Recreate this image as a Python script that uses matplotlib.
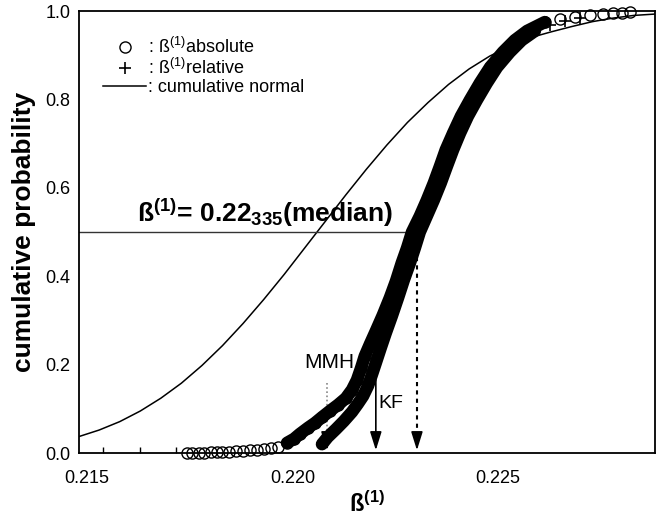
import matplotlib
matplotlib.use('Agg')
import matplotlib.pyplot as plt
from matplotlib.lines import Line2D

# values
# beta(1) absolute (circles): baseline tail, dense band, top tail
abs_tail_x = [0.21743, 0.21757, 0.21772, 0.21786, 0.21801, 0.21816, 0.21830, 0.21845,
              0.21862, 0.21879, 0.21896, 0.21913, 0.21930, 0.21947, 0.21964]
abs_tail_y = [0.000, 0.000, 0.001, 0.001, 0.002, 0.002, 0.003, 0.003,
              0.004, 0.005, 0.006, 0.007, 0.009, 0.011, 0.014]
abs_x = [0.21987, 0.22004, 0.22018, 0.22038, 0.22055, 0.22072, 0.22091, 0.22111, 0.22130,
         0.22145, 0.22157, 0.22167, 0.22176, 0.22189, 0.22203, 0.22220, 0.22237, 0.22252,
         0.22266, 0.22279, 0.22291, 0.22310, 0.22327, 0.22344, 0.22359, 0.22373, 0.22391,
         0.22410, 0.22432, 0.22456, 0.22481, 0.22512, 0.22541, 0.22571, 0.22614]
abs_y = [0.023, 0.032, 0.043, 0.057, 0.068, 0.081, 0.095, 0.109, 0.124,
         0.143, 0.165, 0.192, 0.219, 0.247, 0.276, 0.312, 0.351, 0.389,
         0.430, 0.464, 0.500, 0.536, 0.572, 0.611, 0.649, 0.686, 0.724,
         0.762, 0.799, 0.837, 0.873, 0.907, 0.934, 0.955, 0.975]
abs_top_x = [0.22651, 0.22687, 0.22724, 0.22755, 0.22780, 0.22802, 0.22821]
abs_top_y = [0.982, 0.987, 0.991, 0.993, 0.995, 0.995, 0.998]

# beta(1) relative (plus signs)
rel_x = [0.22072, 0.22086, 0.22106, 0.22125, 0.22145, 0.22159, 0.22172, 0.22184, 0.22193,
         0.22203, 0.22215, 0.22227, 0.22242, 0.22257, 0.22271, 0.22286, 0.22298, 0.22310,
         0.22327, 0.22344, 0.22361, 0.22376, 0.22391, 0.22408, 0.22427, 0.22449, 0.22473,
         0.22498, 0.22529, 0.22558, 0.22590]
rel_y = [0.020, 0.036, 0.054, 0.072, 0.093, 0.111, 0.129, 0.152, 0.176,
         0.204, 0.238, 0.271, 0.310, 0.351, 0.391, 0.430, 0.464, 0.500,
         0.536, 0.572, 0.611, 0.649, 0.686, 0.724, 0.762, 0.799, 0.837,
         0.873, 0.907, 0.934, 0.955]
rel_top_x = [0.22627, 0.22663, 0.22700]
rel_top_y = [0.968, 0.978, 0.985]

# cumulative normal curve
norm_x = [0.2148, 0.2153, 0.2158, 0.2163, 0.2168, 0.2173, 0.2178, 0.2183, 0.2188, 0.2193,
          0.2198, 0.2203, 0.2208, 0.2213, 0.2218, 0.2223, 0.2228, 0.2233, 0.2238, 0.2243,
          0.2248, 0.2253, 0.2258, 0.2263, 0.2268, 0.2273, 0.2278, 0.2283, 0.2288]
norm_y = [0.037, 0.052, 0.071, 0.095, 0.124, 0.158, 0.198, 0.243, 0.293, 0.347,
          0.404, 0.464, 0.524, 0.584, 0.642, 0.697, 0.748, 0.793, 0.834, 0.869,
          0.898, 0.921, 0.940, 0.953, 0.965, 0.976, 0.984, 0.990, 0.993]

median_x = 0.22303
kf_x, kf_y = 0.22203, 0.172
mmh_x, mmh_y = 0.22084, 0.158

plt.rcParams['font.family'] = ['Liberation Sans', 'DejaVu Sans']
plt.rcParams['mathtext.fontset'] = 'custom'
plt.rcParams['mathtext.rm'] = 'Liberation Sans'
plt.rcParams['mathtext.bf'] = 'Liberation Sans:bold'
plt.rcParams['mathtext.it'] = 'Liberation Sans:italic'

fig = plt.figure(figsize=(6.6, 5.25), dpi=100)
ax = fig.add_axes([0.1197, 0.1371, 0.8727, 0.8419])

# cumulative normal
ax.plot(norm_x, norm_y, color='black', lw=1.1, zorder=2)

# median line + arrows
arrow = dict(arrowstyle='-|>,head_length=0.8,head_width=0.25', color='black',
             lw=1.2, mutation_scale=14)
ax.plot([0.2148, median_x], [0.5, 0.5], color='#333333', lw=1.0, zorder=2)
ax.plot([median_x, median_x], [0.5, 0.03], color='black', lw=1.5, ls=(0, (2, 2)), zorder=2)
ax.annotate('', xy=(median_x, 0), xytext=(median_x, 0.04), arrowprops=arrow, zorder=2)
ax.plot([mmh_x, mmh_x], [mmh_y, 0.03], color='#888888', lw=1.2, ls=(0, (1, 1.5)), zorder=1)
ax.annotate('', xy=(mmh_x, 0), xytext=(mmh_x, 0.04), arrowprops=arrow, zorder=1)
ax.annotate('', xy=(kf_x, 0), xytext=(kf_x, kf_y), arrowprops=arrow, zorder=2)

# data bands
ax.plot(rel_x, rel_y, color='black', lw=9, solid_capstyle='round', zorder=3)
ax.plot(rel_x + rel_top_x, rel_y + rel_top_y, ls='none', marker='+', ms=9, mew=1.2,
        color='black', zorder=4)
ax.plot(abs_x, abs_y, color='black', lw=9, solid_capstyle='round', zorder=3)
ax.plot(abs_tail_x + abs_x + abs_top_x, abs_tail_y + abs_y + abs_top_y, ls='none',
        marker='o', ms=8, mfc='none', mec='black', mew=1.0, zorder=4, clip_on=False)

ax.text(0.21622, 0.523, r'ß$^{\mathbf{(1)}}$= 0.22$_{\mathbf{335}}$(median)',
        fontsize=19, fontweight='bold', va='baseline')
ax.text(0.22089, 0.204, 'MMH', fontsize=15, ha='center', va='center')
ax.text(0.2224, 0.111, 'KF', fontsize=14, ha='center', va='center')

handles = [Line2D([], [], ls='none', marker='o', ms=8, mfc='none', mec='black'),
           Line2D([], [], ls='none', marker='+', ms=9, mew=1.2, color='black'),
           Line2D([], [], color='black', lw=1.1)]
labels = [r': ß$^{(1)}$absolute', r': ß$^{(1)}$relative', ': cumulative normal']
ax.legend(handles, labels, loc='upper left', bbox_to_anchor=(0.02, 0.97), frameon=False,
          fontsize=13, handlelength=2.4, handletextpad=0.1, labelspacing=0.05,
          borderpad=0.2)

ax.set_xlim(0.21481, 0.22882)
ax.set_ylim(0, 1)
ax.set_xticks([0.215, 0.220, 0.225])
ax.set_xticklabels(['0.215', '0.220', '0.225'])
ax.set_xticks([0.21539, 0.21629, 0.21717], minor=True)
ax.set_yticks([0, 0.2, 0.4, 0.6, 0.8, 1.0])
ax.set_yticklabels(['0.0', '0.2', '0.4', '0.6', '0.8', '1.0'])
ax.tick_params(which='major', length=0, labelsize=13)
ax.tick_params(axis='x', which='major', pad=12)
ax.tick_params(axis='y', which='major', pad=6)
ax.tick_params(which='minor', direction='in', length=4, width=1)
for s in ax.spines.values():
    s.set_linewidth(1.3)

ax.set_xlabel(r'ß$^{\mathbf{(1)}}$', fontsize=17, fontweight='bold', labelpad=3)
ax.set_ylabel('cumulative probability', fontsize=19, fontweight='bold', labelpad=7)

fig.savefig('out.png', dpi=100)
